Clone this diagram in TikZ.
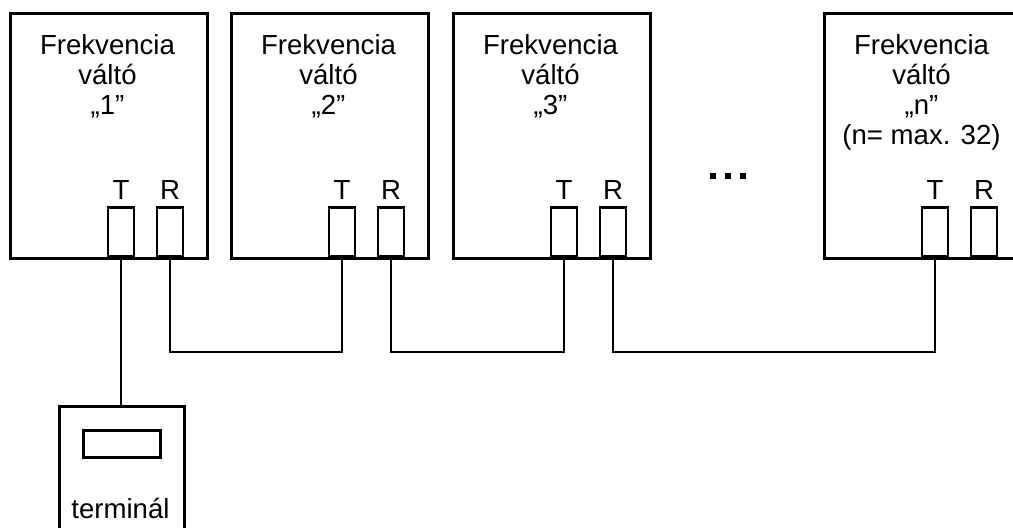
\documentclass[tikz,border=0pt]{standalone}
\usepackage{fontspec}
\setmainfont{Liberation Sans}
\begin{document}
\begin{tikzpicture}[x=0.5pt,y=-0.5pt,
  line width=1.4pt,
  lbl/.style={anchor=base,inner sep=0pt,font=\fontsize{13.8}{16}\selectfont},
  unit/.style={draw,rectangle,anchor=north west,minimum width=98.5pt,minimum height=122.5pt,inner sep=0pt},
  port/.style={draw,rectangle,anchor=south,minimum width=13pt,minimum height=24.5pt,inner sep=0pt},
  wire/.style={line width=1.4pt}]
\useasboundingbox (0,0) rectangle (1013,527);
\clip (0,0) rectangle (1013,527);
\coordinate (bus) at (0,352);
% units
\foreach \i/\x/\q in {1/9/„1”,2/230/„2”,3/452/„3”,n/823/„n”}{
  \node[unit] (u\i) at (\x,12) {};
  \node[port] (t\i) at (\x+112,258) {};
  \node[port] (r\i) at (\x+161,258) {};
  \node[lbl] (tl\i) at (\x+112,199) {T};
  \node[lbl] (rl\i) at (\x+161,199) {R};
  \node[lbl] (f\i) at (\x+98.5,54) {Frekvencia};
  \node[lbl] (v\i) at (\x+98.5,84) {váltó};
  \node[lbl] (q\i) at (\x+98.5,114) {\q};
}
\node[lbl] (max) at (823+98.5,144) {(n= max. 32)};
% dots
\foreach \x in {713,728,743}{\fill (\x-3,173) rectangle (\x+3,179);}
% bus
\draw[wire] (r1.south) -- (r1.south |- bus) -| (t2.south);
\draw[wire] (r2.south) -- (r2.south |- bus) -| (t3.south);
\draw[wire] (r3.south) -- (r3.south |- bus) -| (tn.south);
% terminal
\node[draw,rectangle,anchor=north west,minimum width=62.5pt,minimum height=80pt,inner sep=0pt] (term) at (58,405) {};
\node[draw,rectangle,anchor=north west,minimum width=38.5pt,minimum height=13.5pt,inner sep=0pt] (disp) at (82,429) {};
\node[lbl] (tlab) at (120.5,518) {terminál};
\draw[wire] (t1.south) -- (t1.south |- term.north);
\end{tikzpicture}
\end{document}
